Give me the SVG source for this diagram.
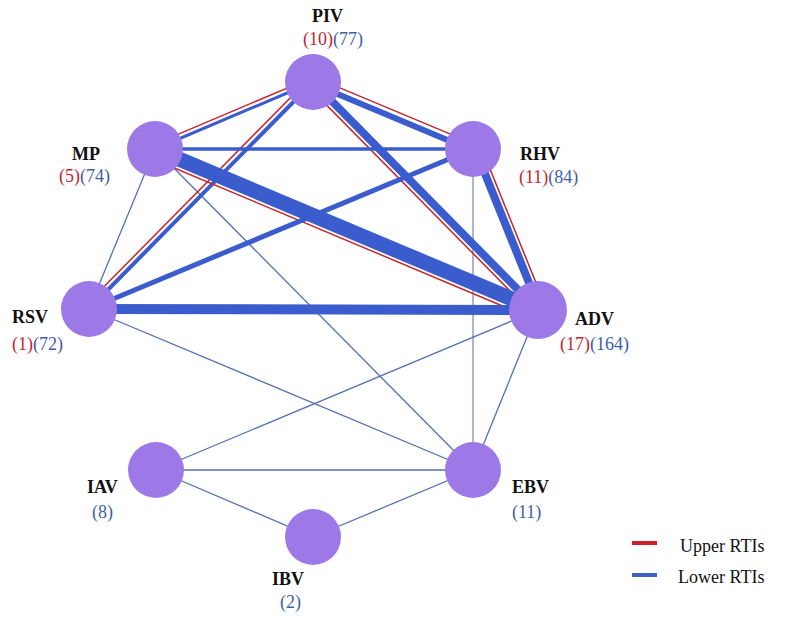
<svg xmlns="http://www.w3.org/2000/svg" width="787" height="621" viewBox="0 0 787 621">
<style>
.bg{fill:#ffffff}
.node{fill:#9d79e8}
.b{stroke:#3a5ccc;fill:none}
.r{stroke:#c4262e;stroke-width:1.5;fill:none}
.t{stroke:#5571b2;stroke-width:1.3;fill:none}
.lbl{font-family:"Liberation Serif","Times New Roman",serif;font-size:18px;font-weight:bold;fill:#111}
.cnt{font-family:"Liberation Serif","Times New Roman",serif;font-size:18px}
.up{fill:#c4262e}
.lo{fill:#3f5ea8}
.leg{font-family:"Liberation Serif","Times New Roman",serif;font-size:18px;fill:#111}
</style>
<rect class="bg" x="0" y="0" width="787" height="621"/>
<g id="connectors">
  <line class="t" x1="155" y1="149" x2="89" y2="309"/>
  <line class="t" x1="155" y1="149" x2="473" y2="470"/>
  <line class="t" x1="473" y1="149" x2="473" y2="470" style="stroke:#8090b6"/>
  <line class="t" x1="89" y1="309" x2="473" y2="470"/>
  <line class="t" x1="538" y1="310" x2="156" y2="470"/>
  <line class="t" x1="538" y1="310" x2="473" y2="470"/>
  <line class="t" x1="156" y1="470" x2="473" y2="470"/>
  <line class="t" x1="156" y1="470" x2="313" y2="537"/>
  <line class="t" x1="313" y1="537" x2="473" y2="470"/>

  <line class="b" x1="313" y1="82" x2="155" y2="149" stroke-width="3"/>
  <line class="r" x1="311.2" y1="77.9" x2="153.2" y2="144.9"/>
  <line class="b" x1="312.4" y1="83.4" x2="472.4" y2="150.4" stroke-width="6"/>
  <line class="r" x1="314.9" y1="77.4" x2="474.9" y2="144.4"/>
  <line class="b" x1="313" y1="82" x2="89" y2="309" stroke-width="4"/>
  <line class="r" x1="309.4" y1="78.5" x2="85.4" y2="305.5"/>
  <line class="b" x1="313" y1="82" x2="538" y2="310" stroke-width="8"/>
  <line class="r" x1="308.4" y1="86.6" x2="533.4" y2="314.6"/>
  <line class="b" x1="155" y1="149" x2="473" y2="149" stroke-width="3.5"/>
  <line class="b" x1="155" y1="149" x2="538" y2="310" stroke-width="15"/>
  <line class="r" x1="151.1" y1="158.2" x2="534.1" y2="319.2"/>
  <line class="b" x1="475" y1="149" x2="540" y2="310" stroke-width="8"/>
  <line class="r" x1="481" y1="146.6" x2="546" y2="307.6"/>
  <line class="b" x1="473" y1="149" x2="89" y2="309" stroke-width="5"/>
  <line class="b" x1="89" y1="309" x2="538" y2="310" stroke-width="10"/>
</g>
<g id="PIV">
  <circle class="node" cx="313" cy="82" r="28"/>
  <text class="lbl" x="312" y="22">PIV</text>
  <text class="cnt" x="303" y="45"><tspan class="up">(10)</tspan><tspan class="lo">(77)</tspan></text>
</g>
<g id="MP">
  <circle class="node" cx="155" cy="149" r="28"/>
  <text class="lbl" x="72" y="160">MP</text>
  <text class="cnt" x="59" y="182"><tspan class="up">(5)</tspan><tspan class="lo">(74)</tspan></text>
</g>
<g id="RHV">
  <circle class="node" cx="473" cy="149" r="28"/>
  <text class="lbl" x="520" y="160">RHV</text>
  <text class="cnt" x="519" y="183"><tspan class="up">(11)</tspan><tspan class="lo">(84)</tspan></text>
</g>
<g id="RSV">
  <circle class="node" cx="89" cy="309" r="28"/>
  <text class="lbl" x="12" y="323">RSV</text>
  <text class="cnt" x="12" y="350"><tspan class="up">(1)</tspan><tspan class="lo">(72)</tspan></text>
</g>
<g id="ADV">
  <circle class="node" cx="538" cy="310" r="29"/>
  <text class="lbl" x="575" y="325">ADV</text>
  <text class="cnt" x="560" y="350"><tspan class="up">(17)</tspan><tspan class="lo">(164)</tspan></text>
</g>
<g id="IAV">
  <circle class="node" cx="156" cy="470" r="28"/>
  <text class="lbl" x="87" y="493">IAV</text>
  <text class="cnt" x="92" y="518"><tspan class="lo">(8)</tspan></text>
</g>
<g id="EBV">
  <circle class="node" cx="473" cy="470" r="28"/>
  <text class="lbl" x="512" y="493">EBV</text>
  <text class="cnt" x="512" y="518"><tspan class="lo">(11)</tspan></text>
</g>
<g id="IBV">
  <circle class="node" cx="313" cy="537" r="28"/>
  <text class="lbl" x="272" y="585">IBV</text>
  <text class="cnt" x="280" y="608"><tspan class="lo">(2)</tspan></text>
</g>
<g id="legend">
  <line x1="632" y1="543" x2="657" y2="543" stroke="#d0202a" stroke-width="4"/>
  <text class="leg" x="680" y="552">Upper RTIs</text>
  <line x1="632" y1="575" x2="657" y2="575" stroke="#4062c8" stroke-width="4"/>
  <text class="leg" x="678" y="583">Lower RTIs</text>
</g>
</svg>
